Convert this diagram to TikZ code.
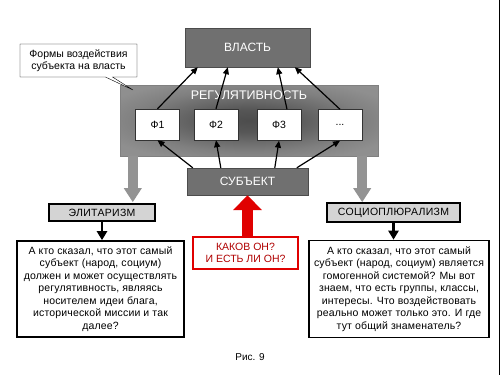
\documentclass[tikz,border=0pt]{standalone}
\usepackage{fontspec}
\setmainfont{Liberation Sans}
\usetikzlibrary{arrows.meta, calc, shapes.callouts}

\definecolor{darkbox}{HTML}{707070}
\definecolor{lightbox}{HTML}{D4D4D4}
\definecolor{redline}{HTML}{E00000}
\definecolor{redtext}{HTML}{B00000}
\pgfdeclareradialshading{regshade}{\pgfpoint{0bp}{0bp}}{color(0bp)=(black!70); color(8bp)=(black!66); color(22bp)=(black!50); color(30bp)=(black!44); color(50bp)=(black!42)}

\tikzset{
  darknode/.style={draw=black!70, fill=darkbox, text=white, font=\fontsize{12}{14}\selectfont, inner sep=0pt},
  formnode/.style={draw=black!80, fill=white, font=\fontsize{10.5}{12}\selectfont, minimum width=44pt, minimum height=31pt, inner sep=0pt},
  doctrine/.style={draw=black, line width=1.2pt, fill=lightbox, font=\fontsize{10.5}{12}\selectfont\addfontfeature{LetterSpace=3}, inner sep=0pt},
  question/.style={draw=black, line width=1.6pt, fill=white, align=center, font=\fontsize{10.5}{12.5}\selectfont\addfontfeature{LetterSpace=1.5}, inner sep=0pt},
  thinarrow/.style={-{Triangle[width=6pt,length=7pt]}, line width=1.2pt},
  bigarrow/.style={-{Triangle[width=17pt,length=14pt]}, line width=10pt, draw=gray!85},
}

\begin{document}
\begin{tikzpicture}[x=1pt, y=-1pt]
\useasboundingbox (0,0) rectangle (500,375);
% Frame line on the right
\draw[line width=1pt] (499,0) -- (499,375);
% Power and regulation
\node[darknode, minimum width=125pt, minimum height=39pt] (vlast) at (247.5,47.5) {ВЛАСТЬ};
\node[draw=black!50, shading=regshade, minimum width=258pt, minimum height=71pt] (reg) at (249,120.5) {};
\node[text=white, font=\fontsize{12.5}{14}\selectfont] (regtitle) at (249,95) {РЕГУЛЯТИВНОСТЬ};
% Forms
\node[formnode] (f1) at (157.5,124.5) {Ф1};
\node[formnode] (f2) at (216,124.5) {Ф2};
\node[formnode] (f3) at (279,125) {Ф3};
\node[formnode] (f4) at (340,125) {...};
% Subject
\node[darknode, minimum width=121pt, minimum height=27pt] (subj) at (247.5,181.5) {СУБЪЕКТ};
% Callout
\node[rectangle callout, draw=black, fill=white, align=center, inner sep=0pt,
  minimum width=117pt, minimum height=33pt, font=\fontsize{10.5}{12.5}\selectfont,
  callout absolute pointer={(133,90)}] (callout) at (78.5,60.5) {Формы воздействия\\субъекта на власть};
% Arrows subject -> forms -> power
\draw[thinarrow] ($(subj.north west)+(6,0)$) -- (f1.south);
\draw[thinarrow] ($(subj.north west)+(34,0)$) -- (f2.south);
\draw[thinarrow] ($(subj.north west)+(88,0)$) -- (f3.south);
\draw[thinarrow] ($(subj.north west)+(110,0)$) -- (f4.south);
\draw[thinarrow] (f1.north) -- ($(vlast.south west)+(13,0)$);
\draw[thinarrow] (f2.north) -- ($(vlast.south west)+(43,0)$);
\draw[thinarrow] ($(f3.north)+(8,0)$) -- ($(vlast.south west)+(93,0)$);
\draw[thinarrow] (f4.north) -- ($(vlast.south west)+(110,0)$);
% Doctrines
\node[doctrine, minimum width=106pt, minimum height=17pt] (elit) at (102,212.5) {ЭЛИТАРИЗМ};
\node[doctrine, minimum width=133pt, minimum height=19pt] (socio) at (393.5,212.5) {СОЦИОПЛЮРАЛИЗМ};
\draw[bigarrow] ($(reg.south west)+(13,0)$) -- ++(0,46);
\draw[bigarrow] ($(reg.south east)+(-16,0)$) -- ++(0,46);
% Questions
\node[question, minimum width=167pt, minimum height=96pt] (elittext) at (100.5,289)
  {А кто сказал, что этот самый\\субъект (народ, социум)\\должен и может осуществлять\\регулятивность, являясь\\носителем идеи блага,\\исторической миссии и так\\далее?};
\node[question, minimum width=180pt, minimum height=97pt] (sociotext) at (399,289)
  {А кто сказал, что этот самый\\субъект (народ, социум) является\\гомогенной системой? Мы вот\\знаем, что есть группы, классы,\\интересы. Что воздействовать\\реально может только это. И где\\тут общий знаменатель?};
\draw[-{Triangle[width=10pt,length=9pt]}, line width=2.5pt] (elit.south) -- (elit.south |- elittext.north);
\draw[-{Triangle[width=10pt,length=9pt]}, line width=2.5pt] (socio.south) -- (socio.south |- sociotext.north);
% Red question
\node[draw=redline, line width=2.2pt, fill=white, text=redtext, align=center, inner sep=0pt,
  minimum width=105pt, minimum height=32pt, font=\fontsize{10.5}{12.5}\selectfont] (kakov) at (245.5,253) {КАКОВ ОН?\\И ЕСТЬ ЛИ ОН?};
\draw[-{Triangle[width=28pt,length=15pt]}, line width=11pt, draw=redline] (subj.south |- kakov.north) -- (subj.south);
% Caption
\node[font=\fontsize{10}{12}\selectfont] (caption) at (250,357) {Рис. 9};
\end{tikzpicture}
\end{document}
